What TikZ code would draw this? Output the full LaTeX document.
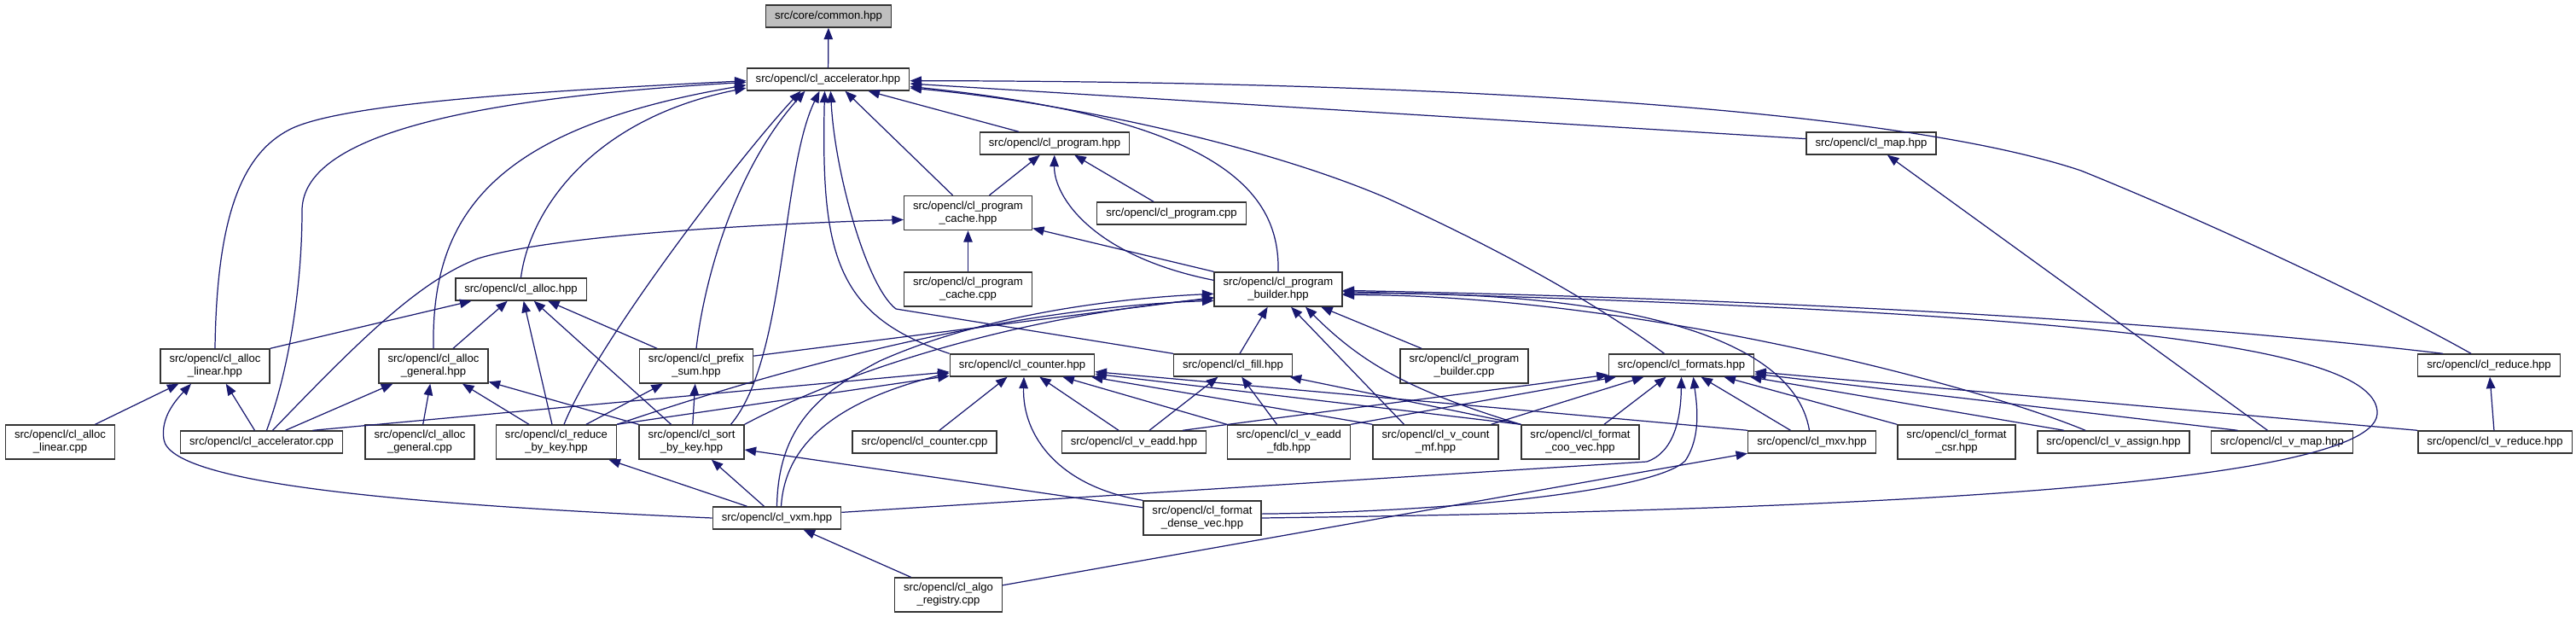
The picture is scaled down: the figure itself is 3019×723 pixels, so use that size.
\documentclass[tikz,border=0pt]{standalone}
\usepackage{fontspec}
\setmainfont{Liberation Sans}
\usepackage{xcolor}
\usepackage{tikz}
\usetikzlibrary{arrows.meta,calc}
\definecolor{edgeblue}{RGB}{25,25,112}

\begin{document}
\begin{tikzpicture}[x=0.02cm,y=-0.02cm,
  fbox/.style={draw=black!80,line width=0.8pt,fill=white,inner xsep=0.21cm,inner ysep=0pt,
    minimum height=0.52cm,align=center,font=\fontsize{7.45pt}{8.6pt}\selectfont},
  fbox2/.style={fbox,minimum height=0.8cm},
  inc/.style={draw=edgeblue,line width=0.7pt,-{Triangle[length=0.27cm,width=0.21cm]}}]
  \useasboundingbox (0,0) rectangle (3019,723);

  \node[fbox,fill=black!25] (common) at (971,19) {src/core/common.hpp};
  \node[fbox] (acc) at (970.5,93) {src/opencl/cl\_accelerator.hpp};
  \node[fbox] (prog) at (1236,168) {src/opencl/cl\_program.hpp};
  \node[fbox] (map) at (2193,168) {src/opencl/cl\_map.hpp};
  \node[fbox2] (pcache) at (1134.5,249.5) {src/opencl/cl\_program\\\_cache.hpp};
  \node[fbox] (progcpp) at (1373,250) {src/opencl/cl\_program.cpp};
  \node[fbox2] (pcachecpp) at (1134.5,339) {src/opencl/cl\_program\\\_cache.cpp};
  \node[fbox2] (builder) at (1498,339) {src/opencl/cl\_program\\\_builder.hpp};
  \node[fbox] (alloc) at (610.5,339) {src/opencl/cl\_alloc.hpp};
  \node[fbox2] (alinear) at (252,429) {src/opencl/cl\_alloc\\\_linear.hpp};
  \node[fbox2] (ageneral) at (508,429) {src/opencl/cl\_alloc\\\_general.hpp};
  \node[fbox2] (prefix) at (816,429) {src/opencl/cl\_prefix\\\_sum.hpp};
  \node[fbox2] (buildercpp) at (1716,429) {src/opencl/cl\_program\\\_builder.cpp};
  \node[fbox] (counter) at (1198,428) {src/opencl/cl\_counter.hpp};
  \node[fbox] (fill) at (1445,428) {src/opencl/cl\_fill.hpp};
  \node[fbox] (formats) at (1970.5,428) {src/opencl/cl\_formats.hpp};
  \node[fbox] (reduce) at (2917,428) {src/opencl/cl\_reduce.hpp};
  \node[fbox2] (alinearcpp) at (70.5,518) {src/opencl/cl\_alloc\\\_linear.cpp};
  \node[fbox] (acccpp) at (306.5,518) {src/opencl/cl\_accelerator.cpp};
  \node[fbox2] (ageneralcpp) at (492,518) {src/opencl/cl\_alloc\\\_general.cpp};
  \node[fbox2] (rbk) at (652,518) {src/opencl/cl\_reduce\\\_by\_key.hpp};
  \node[fbox2] (sbk) at (810.5,518) {src/opencl/cl\_sort\\\_by\_key.hpp};
  \node[fbox] (countercpp) at (1083.5,518) {src/opencl/cl\_counter.cpp};
  \node[fbox] (veadd) at (1329,518) {src/opencl/cl\_v\_eadd.hpp};
  \node[fbox2] (fdb) at (1510.5,518) {src/opencl/cl\_v\_eadd\\\_fdb.hpp};
  \node[fbox2] (countmf) at (1682.5,518) {src/opencl/cl\_v\_count\\\_mf.hpp};
  \node[fbox2] (coo) at (1852,518) {src/opencl/cl\_format\\\_coo\_vec.hpp};
  \node[fbox] (mxv) at (2123.5,518) {src/opencl/cl\_mxv.hpp};
  \node[fbox2] (csr) at (2293,518) {src/opencl/cl\_format\\\_csr.hpp};
  \node[fbox] (vassign) at (2477,518) {src/opencl/cl\_v\_assign.hpp};
  \node[fbox] (vmap) at (2674.5,518) {src/opencl/cl\_v\_map.hpp};
  \node[fbox] (vreduce) at (2924,518) {src/opencl/cl\_v\_reduce.hpp};
  \node[fbox] (vxm) at (910.5,607) {src/opencl/cl\_vxm.hpp};
  \node[fbox2] (dense) at (1409,607) {src/opencl/cl\_format\\\_dense\_vec.hpp};
  \node[fbox2] (algo) at (1111.5,697) {src/opencl/cl\_algo\\\_registry.cpp};

  \draw[inc] (acc) -- (common);

  \draw[inc] (alinear.north) .. controls (254,250) and (285,180) .. (339,152) .. controls (400,120) and (650,106) .. (acc.181);
  \draw[inc] ($(acccpp.north)+(6,0)$) .. controls (340,430) and (354,330) .. (354,247) .. controls (354,170) and (500,118) .. (acc.182);
  \draw[inc] (ageneral.north) .. controls (505,250) and (580,150) .. (acc.184);
  \draw[inc] (alloc.north) .. controls (620,250) and (690,140) .. (acc.186);
  \draw[inc] ($(rbk.north)+(9,0)$) .. controls (700,400) and (870,180) .. ($(acc.south)+(-32,0)$);
  \draw[inc] (prefix.north) .. controls (825,330) and (860,200) .. ($(acc.south)+(-27,0)$);
  \draw[inc] ($(sbk.north)+(46,0)$) .. controls (922,420) and (915,200) .. ($(acc.south)+(-10,0)$);
  \draw[inc] (counter.north west) .. controls (980,370) and (962,300) .. ($(acc.south)+(-4,0)$);
  \draw[inc] (fill.north west) -- (1050,362) .. controls (1015,335) and (978,200) .. ($(acc.south)+(3,0)$);
  \draw[inc] ($(pcache.north)+(-18,0)$) -- ($(acc.south)+(20,0)$);
  \draw[inc] ($(prog.north)+(-42,0)$) -- ($(acc.south)+(47,0)$);
  \draw[inc] (builder.north) .. controls (1500,230) and (1440,140) .. (acc.355);
  \draw[inc] ($(formats.north)+(-20,0)$) .. controls (1850,340) and (1720,275) .. (1625,232) .. controls (1480,170) and (1250,120) .. (acc.354);
  \draw[inc] (map.176) -- (acc.357);
  \draw[inc] ($(reduce.north)+(-21,0)$) .. controls (2800,360) and (2600,265) .. (2439,200) .. controls (2200,120) and (1600,95) .. (acc.359);

  \draw[inc] (alinear.north east) -- (alloc);
  \draw[inc] ($(ageneral.north)+(23,0)$) -- (alloc);
  \draw[inc] ($(rbk.north)+(-5,0)$) -- (alloc);
  \draw[inc] ($(sbk.north)+(-24,0)$) -- (alloc);
  \draw[inc] ($(prefix.north)+(-46,0)$) -- (alloc);

  \draw[inc] ($(alinearcpp.north)+(41,0)$) -- (alinear);
  \draw[inc] ($(acccpp.north)+(-8,0)$) -- (alinear);
  \draw[inc] (vxm.west) .. controls (450,590) and (200,565) .. (192,515) .. controls (188,490) and (205,470) .. ($(alinear.south)+(-28,0)$);

  \draw[inc] ($(acccpp.north)+(28,0)$) -- (ageneral);
  \draw[inc] (ageneralcpp) -- (ageneral);
  \draw[inc] ($(rbk.north)+(-32,0)$) -- (ageneral);
  \draw[inc] (sbk.north west) -- (ageneral);

  \draw[inc] ($(rbk.north)+(35,0)$) -- (prefix);
  \draw[inc] (sbk) -- (prefix);

  \draw[inc] ($(pcache.north)+(25,0)$) -- (prog);
  \draw[inc] ($(progcpp.north)+(-21,0)$) -- (prog);
  \draw[inc] (builder.172) .. controls (1280,300) and (1235,230) .. (prog);

  \draw[inc] (pcachecpp) -- (pcache);
  \draw[inc] ($(acccpp.north)+(13,0)$) .. controls (420,400) and (490,330) .. (560,303) .. controls (650,275) and (900,262) .. (pcache.186);
  \draw[inc] (builder.north west) -- (pcache);

  \draw[inc] (prefix.10) -- (builder);
  \draw[inc] (rbk.north east) .. controls (950,420) and (1200,360) .. (builder.190);
  \draw[inc] (sbk.north east) .. controls (1000,430) and (1200,370) .. (builder.188);
  \draw[inc] (vxm.north) .. controls (912,500) and (960,460) .. (1031,423) .. controls (1150,370) and (1300,350) .. (builder.184);
  \draw[inc] ($(fill.north)+(8,0)$) -- (builder);
  \draw[inc] ($(countmf.north)+(-37,0)$) -- ($(builder.south)+(15,0)$);
  \draw[inc] (coo.north west) .. controls (1660,460) and (1600,430) .. ($(builder.south)+(32,0)$);
  \draw[inc] ($(buildercpp.north)+(-50,0)$) -- (builder);
  \draw[inc] ($(mxv.north)+(-3,0)$) .. controls (2100,380) and (1850,340) .. (builder.356);
  \draw[inc] ($(vassign.north)+(-33,0)$) .. controls (2300,445) and (1900,345) .. (builder.355);
  \draw[inc] ($(reduce.north)+(-54,0)$) .. controls (2700,395) and (2300,355) .. (builder.359);
  \draw[inc] (dense.east) .. controls (2000,600) and (2780,580) .. (2786,485) .. controls (2790,400) and (2400,365) .. (builder.358);

  \draw[inc] (countercpp) -- (counter);
  \draw[inc] (dense.north west) .. controls (1240,570) and (1198,510) .. ($(counter.south)+(2,0)$);
  \draw[inc] ($(veadd.north)+(-18,0)$) -- (counter);
  \draw[inc] (fdb.north west) -- (counter);
  \draw[inc] (countmf.north west) -- (counter);
  \draw[inc] (coo.north west) -- (counter);
  \draw[inc] (mxv.north west) -- (counter);
  \draw[inc] ($(acccpp.north)+(60,0)$) -- (counter);
  \draw[inc] (rbk.north east) -- (counter);
  \draw[inc] ($(vxm.north)+(5,0)$) .. controls (920,520) and (980,470) .. (counter.186);

  \draw[inc] ($(veadd.north)+(18,0)$) -- (fill);
  \draw[inc] ($(fdb.north)+(-14,0)$) -- (fill);
  \draw[inc] (coo.north west) -- (fill);

  \draw[inc] ($(veadd.north)+(57,0)$) -- (formats);
  \draw[inc] (fdb.north east) -- (formats);
  \draw[inc] ($(countmf.north)+(65,0)$) -- (formats);
  \draw[inc] ($(coo.north)+(28,0)$) -- (formats);
  \draw[inc] (vxm.5) -- (1930,541) .. controls (1962,530) and (1970,490) .. (formats.south);
  \draw[inc] (dense.4) .. controls (1700,600) and (1940,575) .. (1975,540) .. controls (1995,510) and (1988,470) .. ($(formats.south)+(14,0)$);
  \draw[inc] ($(mxv.north)+(-25,0)$) -- (formats);
  \draw[inc] (csr.north west) -- (formats);
  \draw[inc] ($(vassign.north)+(-58,0)$) -- (formats);
  \draw[inc] ($(vmap.north)+(-52,0)$) -- (formats);
  \draw[inc] (vreduce.north west) -- (formats);

  \draw[inc] (algo.10) -- (mxv);
  \draw[inc] ($(algo.north)+(-44,0)$) -- (vxm);
  \draw[inc] ($(vxm.north)+(-15,0)$) -- (sbk);
  \draw[inc] (dense.170) -- (sbk);
  \draw[inc] ($(vxm.north)+(-35,0)$) -- (rbk);
  \draw[inc] ($(vmap.north)+(-17,0)$) -- (map);
  \draw[inc] (vreduce) -- (reduce);
\end{tikzpicture}
\end{document}
